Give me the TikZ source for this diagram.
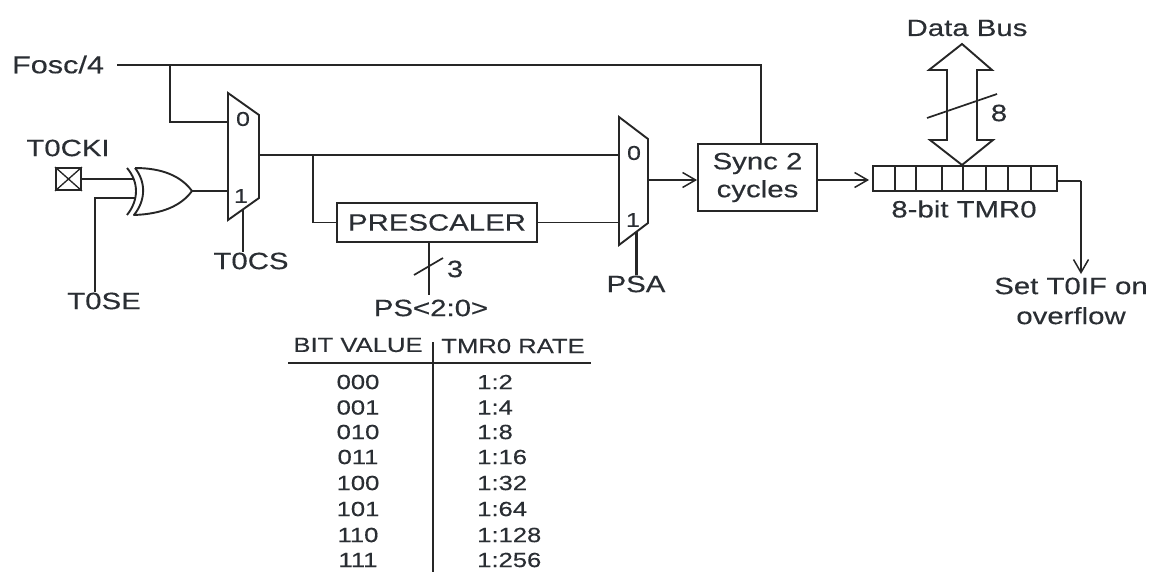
\documentclass[tikz,border=0pt]{standalone}
\usepackage{fontspec}
\setmainfont[FakeStretch=1.25,FakeBold=0.35]{Liberation Sans}
\usetikzlibrary{arrows.meta,calc}
\definecolor{ink}{HTML}{262626}
\definecolor{txt}{HTML}{2A2E33}
\tikzset{
  wire/.style={draw=ink,line width=1.7pt},
  flow/.style={wire,-{Straight Barb[length=13pt,width=15pt,line width=1.5pt]}},
  boxn/.style={draw=ink,line width=1.9pt,fill=white,inner sep=0pt,text=txt,font=\fontsize{23.5}{27}\selectfont,align=center},
  lbl/.style={inner sep=0pt,text=txt,font=\fontsize{23.5}{27}\selectfont,align=center},
  tbl/.style={inner sep=0pt,text=txt,font=\fontsize{20.5}{24}\selectfont},
  pin/.style={inner sep=0pt,text=txt,font=\fontsize{20}{22}\selectfont},
}
\begin{document}
\begin{tikzpicture}[x=1pt,y=-1pt]
\path[use as bounding box,fill=white] (0,0) rectangle (1155,572);

% multiplexers
\draw[wire,line width=1.9pt,line join=miter] (228,93) coordinate (m1tl) -- (259,115) -- (259,198) -- (228,220) -- cycle;
\draw[wire,line width=1.9pt,line join=miter] (619,117) coordinate (m2tl) -- (648,139) -- (648,223) -- (619,245) -- cycle;
\coordinate (m1a) at (228,122);
\coordinate (m1b) at (228,191);
\coordinate (m1o) at (259,155);
\coordinate (m1s) at (243,210);
\coordinate (m2a) at (619,155);
\coordinate (m2b) at (619,222.5);
\coordinate (m2o) at (648,180);
\coordinate (m2s) at (636,232);
\node[pin] (p10) at (243,119) {0};
\node[pin] (p11) at (241,196) {1};
\node[pin] (p20) at (634,153) {0};
\node[pin] (p21) at (633,220) {1};

% boxes
\node[boxn,minimum width=200pt,minimum height=39pt] (pre) at (437,222.5) {PRESCALER};
\node[boxn,minimum width=119pt,minimum height=67pt] (sync) at (757.5,177.5) {Sync 2\\[1pt]cycles};
\node[boxn,minimum width=184pt,minimum height=25pt] (reg) at (965,178.5) {};
\foreach \x in {895,916,942,963,986,1008,1031}
  \draw[wire] (\x,166) -- (\x,191);
\node[draw=ink,line width=1.9pt,minimum width=25pt,minimum height=22pt,inner sep=0pt] (pin) at (68.5,179) {};
\draw[wire,line width=1.3pt] (pin.north west) -- (pin.south east) (pin.north east) -- (pin.south west);

% XOR gate
\draw[wire,line width=1.9pt,line join=round]
  (135,168) .. controls (162,168) and (181,176) .. (192,191) coordinate (xo)
  .. controls (181,206) and (162,214) .. (134,215)
  .. controls (146,200) and (146,182) .. (135,168);
\draw[wire,line width=1.9pt] (127,168) .. controls (139,182) and (139,200) .. (127,215);
\coordinate (xa) at (133,179);
\coordinate (xb) at (136,198);

% labels
\node[lbl,font=\fontsize{24.5}{27}\selectfont] (fosc) at (58,64.5) {Fosc/4};
\node[lbl] (ckilbl) at (68,148) {T0CKI};
\node[lbl] (selbl) at (104,301) {T0SE};
\node[lbl] (cslbl) at (251,261) {T0CS};
\node[lbl] (psalbl) at (636,284) {PSA};
\node[lbl] (pslbl) at (431,308) {PS<2:0>};
\node[lbl] (three) at (455,269) {3};
\node[lbl] (databus) at (967,28) {Data Bus};
\node[lbl] (eight) at (999,113) {8};
\node[lbl] (tmrlbl) at (964,209) {8-bit TMR0};
\node[lbl] (setlbl) at (1071,301) {Set T0IF on\\[3pt]overflow};

% connectors
\coordinate (fturn) at (761,65);
\coordinate (fbr) at (170,65);
\draw[wire] (fosc.east |- fbr) ++(13,0) -- (fturn) -- (fturn |- sync.north);
\draw[wire] (fbr) -- (fbr |- m1a) -- (m1a);
\draw[wire] (pin.east) -- (xa);
\coordinate (seturn) at (95,198);
\draw[wire] (selbl.north -| seturn) -- (seturn) -- (xb);
\draw[wire] (xo) -- (m1b);
\draw[wire] (m1s) -- (m1s |- cslbl.north);
\draw[wire] (m1o) -- (m2a);
\coordinate (pbr) at (313,155);
\draw[wire] (pbr) -- (pbr |- pre.west) -- (pre.west);
\draw[wire] (pre.east) -- (m2b);
\draw[wire] (429,242) -- (429,295);
\draw[wire] (414,275) -- (443,258);
\draw[wire,line width=3pt] (m2s) -- (m2s |- psalbl.north);
\draw[flow] (m2o) -- (m2o -| sync.west);
\draw[flow] (m2o -| sync.east) -- ([xshift=-3pt]m2o -| reg.west);
\coordinate (oturn) at (1081,181);
\draw[wire] (reg.east |- oturn) -- (oturn);
\draw[flow] (oturn) -- (1081,274);

% data bus
\draw[wire,line width=1.9pt,line join=miter]
  (962,44) -- (992,70) -- (977,70) -- (977,140) -- (993,140) -- (962,165)
  -- (930,140) -- (947,140) -- (947,70) -- (929,70) -- cycle;
\draw[wire] (927,118) -- (997,94);

% table
\node[tbl] (hb) at (358,345) {BIT VALUE};
\node[tbl] (hr) at (513,346) {TMR0 RATE};
\draw[wire] (288,363) -- (591,363);
\draw[wire,line width=2pt] (433,342) -- (433,572);
\foreach \b/\r/\y in {000/1:2/382,001/1:4/407.5,010/1:8/432,011/1:16/457,100/1:32/483,101/1:64/509,110/1:128/535,111/1:256/560}{
  \node[tbl] (b\b) at (358,\y) {\b};
  \node[tbl,anchor=west] (r\b) at (477,\y) {\r};
}
\end{tikzpicture}
\end{document}
